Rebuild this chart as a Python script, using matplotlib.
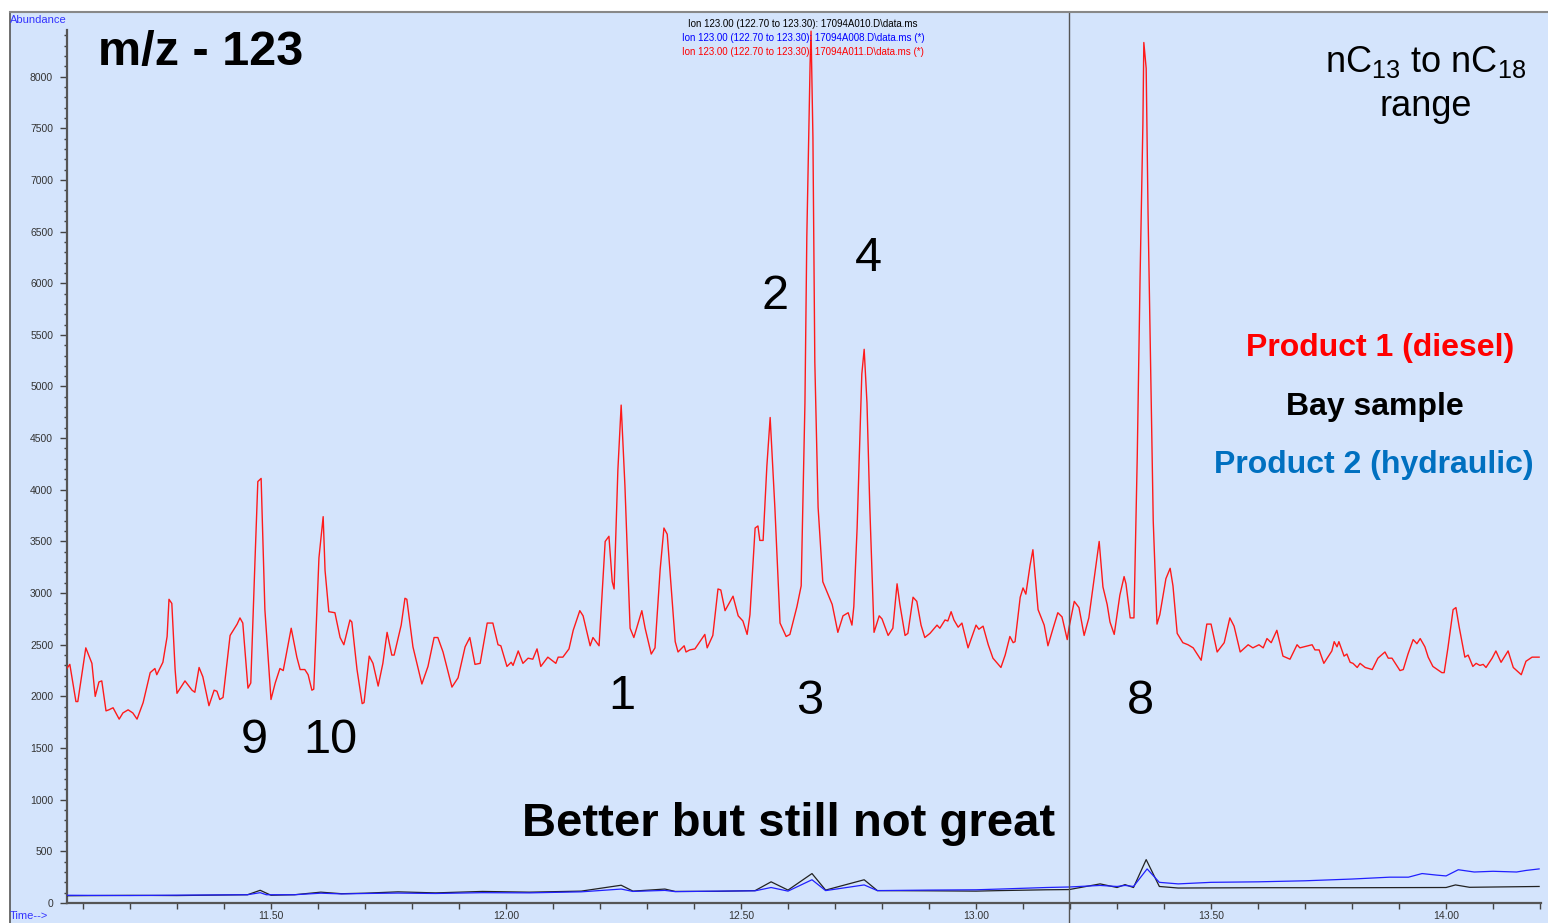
import matplotlib
matplotlib.use('Agg')
import matplotlib.pyplot as plt
from matplotlib.patches import Rectangle
from matplotlib.lines import Line2D
from matplotlib.ticker import FixedLocator

plt.rcParams['font.family'] = ['Liberation Sans', 'DejaVu Sans']
plt.rcParams['mathtext.default'] = 'regular'

# Ion 123 trace, product 1 (diesel) - retention time (min), abundance
red_t = [11.064, 11.072, 11.085, 11.089, 11.106, 11.119, 11.126, 11.134, 11.140, 11.149,
         11.155, 11.164, 11.177, 11.185, 11.196, 11.206, 11.215, 11.228, 11.243, 11.253,
         11.257, 11.270, 11.279, 11.283, 11.289, 11.296, 11.300, 11.317, 11.332, 11.338,
         11.347, 11.355, 11.368, 11.379, 11.385, 11.391, 11.398, 11.413, 11.428, 11.434,
         11.440, 11.451, 11.457, 11.466, 11.472, 11.479, 11.487, 11.500, 11.509, 11.519,
         11.526, 11.543, 11.555, 11.562, 11.572, 11.579, 11.587, 11.591, 11.602, 11.611,
         11.615, 11.623, 11.636, 11.647, 11.655, 11.668, 11.672, 11.683, 11.694, 11.698,
         11.709, 11.717, 11.728, 11.738, 11.747, 11.757, 11.762, 11.777, 11.785, 11.789,
         11.802, 11.821, 11.834, 11.847, 11.855, 11.866, 11.885, 11.898, 11.913, 11.923,
         11.934, 11.945, 11.960, 11.972, 11.983, 11.989, 12.002, 12.011, 12.015, 12.026,
         12.036, 12.047, 12.057, 12.066, 12.074, 12.089, 12.106, 12.111, 12.121, 12.134,
         12.143, 12.157, 12.164, 12.179, 12.185, 12.198, 12.211, 12.219, 12.226, 12.230,
         12.238, 12.245, 12.253, 12.264, 12.272, 12.289, 12.296, 12.309, 12.317, 12.328,
         12.336, 12.343, 12.360, 12.366, 12.379, 12.383, 12.391, 12.402, 12.423, 12.428,
         12.440, 12.451, 12.457, 12.466, 12.483, 12.494, 12.504, 12.513, 12.519, 12.530,
         12.536, 12.540, 12.547, 12.555, 12.562, 12.572, 12.583, 12.596, 12.604, 12.619,
         12.628, 12.636, 12.640, 12.647, 12.649, 12.653, 12.657, 12.664, 12.674, 12.694,
         12.706, 12.717, 12.728, 12.736, 12.740, 12.747, 12.757, 12.762, 12.768, 12.774,
         12.783, 12.794, 12.800, 12.813, 12.823, 12.832, 12.838, 12.849, 12.855, 12.866,
         12.874, 12.883, 12.891, 12.902, 12.917, 12.923, 12.934, 12.940, 12.947, 12.953,
         12.962, 12.970, 12.983, 13.000, 13.006, 13.015, 13.026, 13.036, 13.053, 13.062,
         13.072, 13.079, 13.083, 13.094, 13.100, 13.106, 13.115, 13.121, 13.132, 13.145,
         13.153, 13.164, 13.174, 13.183, 13.194, 13.198, 13.209, 13.219, 13.230, 13.240,
         13.249, 13.262, 13.270, 13.279, 13.285, 13.294, 13.306, 13.315, 13.319, 13.328,
         13.336, 13.343, 13.349, 13.355, 13.357, 13.362, 13.366, 13.372, 13.377, 13.385,
         13.391, 13.404, 13.413, 13.419, 13.428, 13.440, 13.451, 13.462, 13.479, 13.491,
         13.500, 13.513, 13.528, 13.540, 13.549, 13.562, 13.579, 13.589, 13.602, 13.611,
         13.619, 13.628, 13.640, 13.653, 13.668, 13.683, 13.689, 13.715, 13.721, 13.730,
         13.740, 13.757, 13.762, 13.768, 13.772, 13.783, 13.789, 13.796, 13.802, 13.811,
         13.817, 13.828, 13.843, 13.855, 13.870, 13.877, 13.885, 13.902, 13.909, 13.919,
         13.930, 13.938, 13.945, 13.955, 13.962, 13.972, 13.991, 13.996, 14.004, 14.015,
         14.021, 14.028, 14.040, 14.047, 14.057, 14.064, 14.072, 14.079, 14.085, 14.098,
         14.106, 14.117, 14.132, 14.143, 14.160, 14.170, 14.183, 14.198]
red_a = [2260, 2310, 1950, 1950, 2470, 2320, 2000, 2140, 2150, 1860,
         1870, 1890, 1780, 1840, 1870, 1840, 1780, 1940, 2230, 2270,
         2210, 2330, 2580, 2940, 2900, 2260, 2030, 2150, 2060, 2040,
         2280, 2190, 1910, 2060, 2050, 1970, 1990, 2590, 2700, 2760,
         2710, 2080, 2130, 3320, 4080, 4110, 2840, 1970, 2130, 2270,
         2250, 2660, 2380, 2260, 2260, 2210, 2060, 2070, 3340, 3740,
         3220, 2820, 2810, 2570, 2500, 2740, 2720, 2260, 1930, 1940,
         2390, 2320, 2100, 2320, 2620, 2400, 2400, 2690, 2950, 2940,
         2480, 2120, 2290, 2570, 2570, 2430, 2090, 2180, 2480, 2570,
         2310, 2320, 2710, 2710, 2500, 2490, 2290, 2330, 2300, 2440,
         2320, 2370, 2360, 2460, 2290, 2380, 2320, 2380, 2380, 2460,
         2640, 2830, 2780, 2490, 2570, 2490, 3500, 3550, 3110, 3040,
         4190, 4820, 4040, 2660, 2570, 2830, 2660, 2410, 2470, 3230,
         3630, 3570, 2530, 2430, 2490, 2430, 2450, 2460, 2600, 2470,
         2590, 3040, 3030, 2830, 2970, 2780, 2730, 2600, 2790, 3630,
         3650, 3510, 3510, 4230, 4700, 3830, 2710, 2580, 2600, 2870,
         3070, 4840, 6450, 8130, 8440, 7410, 5240, 3830, 3110, 2890,
         2620, 2780, 2810, 2690, 2870, 3630, 5120, 5360, 4840, 3830,
         2620, 2780, 2750, 2590, 2660, 3090, 2890, 2590, 2610, 2960,
         2920, 2690, 2570, 2610, 2690, 2660, 2740, 2730, 2820, 2740,
         2670, 2710, 2470, 2690, 2650, 2680, 2500, 2370, 2280, 2400,
         2580, 2520, 2530, 2960, 3050, 2990, 3270, 3420, 2840, 2690,
         2490, 2660, 2810, 2770, 2550, 2670, 2920, 2860, 2590, 2760,
         3060, 3500, 3060, 2890, 2720, 2600, 2980, 3160, 3090, 2760,
         2760, 4320, 6050, 7540, 8330, 8080, 6670, 5020, 3700, 2700,
         2790, 3140, 3240, 3070, 2610, 2520, 2500, 2470, 2350, 2700,
         2700, 2430, 2520, 2760, 2680, 2430, 2500, 2470, 2500, 2470,
         2560, 2520, 2640, 2390, 2360, 2500, 2470, 2500, 2450, 2450,
         2320, 2440, 2530, 2480, 2530, 2390, 2410, 2330, 2320, 2280,
         2320, 2280, 2260, 2370, 2430, 2370, 2370, 2250, 2260, 2410,
         2550, 2510, 2560, 2480, 2380, 2290, 2230, 2230, 2470, 2840,
         2860, 2670, 2380, 2400, 2290, 2320, 2300, 2310, 2280, 2370,
         2440, 2330, 2440, 2280, 2210, 2340, 2380, 2380]

# product 2 (hydraulic)
blue_t = [11.064, 11.200, 11.300, 11.450, 11.477, 11.490, 11.550, 11.606, 11.650, 11.700,
          11.770, 11.850, 11.950, 12.050, 12.160, 12.245, 12.270, 12.338, 12.360, 12.450,
          12.530, 12.564, 12.600, 12.651, 12.680, 12.762, 12.790, 12.900, 13.000, 13.050,
          13.150, 13.198, 13.264, 13.300, 13.317, 13.335, 13.364, 13.390, 13.430, 13.500,
          13.600, 13.700, 13.800, 13.880, 13.920, 13.949, 13.980, 14.000, 14.026, 14.060,
          14.100, 14.150, 14.170, 14.198]
blue_a = [75, 72, 76, 80, 100, 80, 80, 95, 88, 92,
          96, 92, 100, 98, 108, 135, 112, 122, 110, 115,
          118, 150, 115, 225, 120, 175, 120, 125, 128, 135,
          150, 155, 170, 160, 170, 160, 330, 200, 185, 200,
          205, 215, 232, 250, 250, 285, 270, 262, 322, 300,
          307, 300, 315, 330]

# bay sample
black_t = [11.064, 11.200, 11.300, 11.450, 11.477, 11.500, 11.550, 11.606, 11.650, 11.700,
           11.770, 11.850, 11.950, 12.050, 12.160, 12.245, 12.270, 12.338, 12.360, 12.450,
           12.530, 12.564, 12.600, 12.651, 12.680, 12.762, 12.790, 12.900, 13.000, 13.050,
           13.150, 13.198, 13.264, 13.300, 13.317, 13.335, 13.362, 13.390, 13.430, 13.600,
           13.800, 14.000, 14.020, 14.050, 14.198]
black_a = [70, 74, 72, 80, 123, 75, 80, 105, 90, 95,
           108, 98, 112, 105, 115, 172, 115, 135, 112, 113,
           120, 205, 125, 285, 125, 225, 120, 118, 115, 120,
           128, 130, 185, 150, 178, 150, 420, 160, 145, 148,
           148, 150, 175, 152, 160]

# peak numbers: label, time, abundance
peak_labels = ['2', '4', '1', '3', '8', '9', '10']
peak_t = [12.572, 12.772, 12.247, 12.647, 13.349, 11.464, 11.626]
peak_a = [5870, 6235, 1995, 1955, 1955, 1570, 1570]

header = ['Ion 123.00 (122.70 to 123.30): 17094A010.D\\data.ms',
          'Ion 123.00 (122.70 to 123.30): 17094A008.D\\data.ms (*)',
          'Ion 123.00 (122.70 to 123.30): 17094A011.D\\data.ms (*)']
header_cols = ['black', '#0000ff', '#ff0000']

legend_txt = ['Product 1 (diesel)', 'Bay sample', 'Product 2 (hydraulic)']
legend_cols = ['#ff0000', 'black', '#0070c0']
legend_x = [1380, 1375, 1374]

bg = '#d4e4fc'
W, H = 1548, 923


def fx(px):
    return px / float(W)


def fy(py):
    return 1 - py / float(H)


def main():
    fig = plt.figure(figsize=(W / 100.0, H / 100.0), dpi=100)
    fig.patch.set_facecolor('white')
    # window panel
    fig.patches.append(Rectangle((fx(10), 0), 1 - fx(10), fy(13), transform=fig.transFigure,
                                 facecolor=bg, edgecolor='none', zorder=-10))
    fig.lines.append(Line2D([fx(10), fx(10)], [0, fy(12)], transform=fig.transFigure,
                            color='#555555', lw=1.2))
    fig.lines.append(Line2D([fx(10), 1], [fy(12), fy(12)], transform=fig.transFigure,
                            color='#888888', lw=1.5))

    ax = fig.add_axes([fx(67), fy(903), fx(1541) - fx(67), fy(13) - fy(903)])
    ax.set_facecolor('none')

    ax.plot(black_t, black_a, color='#222222', lw=0.9, zorder=3)
    ax.plot(blue_t, blue_a, color='#2020ff', lw=0.9, zorder=3)
    ax.plot(red_t, red_a, color='#ff1a1a', lw=1.0, zorder=4)

    ax.set_xlim(11.066, 14.202)
    ax.set_ylim(0, (903 - 13) / 0.1033)

    for s in ['top', 'right']:
        ax.spines[s].set_visible(False)
    ax.spines['left'].set_color('#555555')
    ax.spines['left'].set_linewidth(1.6)
    ax.spines['left'].set_bounds(0, 8450)
    ax.spines['bottom'].set_color('#555555')
    ax.spines['bottom'].set_linewidth(1.6)

    yt = list(range(0, 8001, 500))
    ax.set_yticks(yt)
    ax.set_yticklabels([str(y) for y in yt])
    ax.yaxis.set_minor_locator(FixedLocator([y for y in range(100, 8401, 100) if y % 500]))
    xt = [11.5, 12.0, 12.5, 13.0, 13.5, 14.0]
    ax.set_xticks(xt)
    ax.set_xticklabels(['%.2f' % x for x in xt])
    ax.xaxis.set_minor_locator(FixedLocator([11.1 + 0.1 * i for i in range(32)]))
    ax.tick_params(axis='y', which='major', length=5, width=1, color='#444444',
                   labelsize=7.5, labelcolor='#333333', pad=5)
    ax.tick_params(axis='y', which='minor', length=2.5, width=1, color='#444444')
    ax.tick_params(axis='x', which='both', length=4, width=1, color='#444444',
                   labelsize=7.5, labelcolor='#333333', pad=2)

    # cursor line
    ax.axvline(13.198, ymin=-0.0225, ymax=1, color='#555555', lw=1.0, clip_on=False, zorder=5)

    for lab, t, a in zip(peak_labels, peak_t, peak_a):
        ax.text(t, a, lab, fontsize=35, ha='center', va='center', color='black')

    fig.text(fx(10), fy(20), 'Abundance', fontsize=8, color='#3333ff', va='center', ha='left')
    fig.text(fx(10), fy(916), 'Time-->', fontsize=8, color='#3333ff', va='center', ha='left')

    for i, (txt, c) in enumerate(zip(header, header_cols)):
        fig.text(fx(803), fy(24 + 14 * i), txt, fontsize=7, color=c, ha='center', va='center')

    fig.text(fx(98), fy(53), 'm/z - 123', fontsize=35, fontweight='bold', ha='left', va='center')
    fig.text(fx(789), fy(824), 'Better but still not great', fontsize=34, fontweight='bold',
             ha='center', va='center')

    fig.text(fx(1426), fy(62), r'nC$_{13}$ to nC$_{18}$', fontsize=26, ha='center', va='center')
    fig.text(fx(1426), fy(106), 'range', fontsize=26, ha='center', va='center')

    for i, (txt, c) in enumerate(zip(legend_txt, legend_cols)):
        fig.text(fx(legend_x[i]), fy(348 + 58.5 * i), txt, fontsize=23, fontweight='bold', color=c,
                 ha='center', va='center')

    fig.savefig('out.png', dpi=100, facecolor=fig.get_facecolor())


if __name__ == "__main__":
    main()
